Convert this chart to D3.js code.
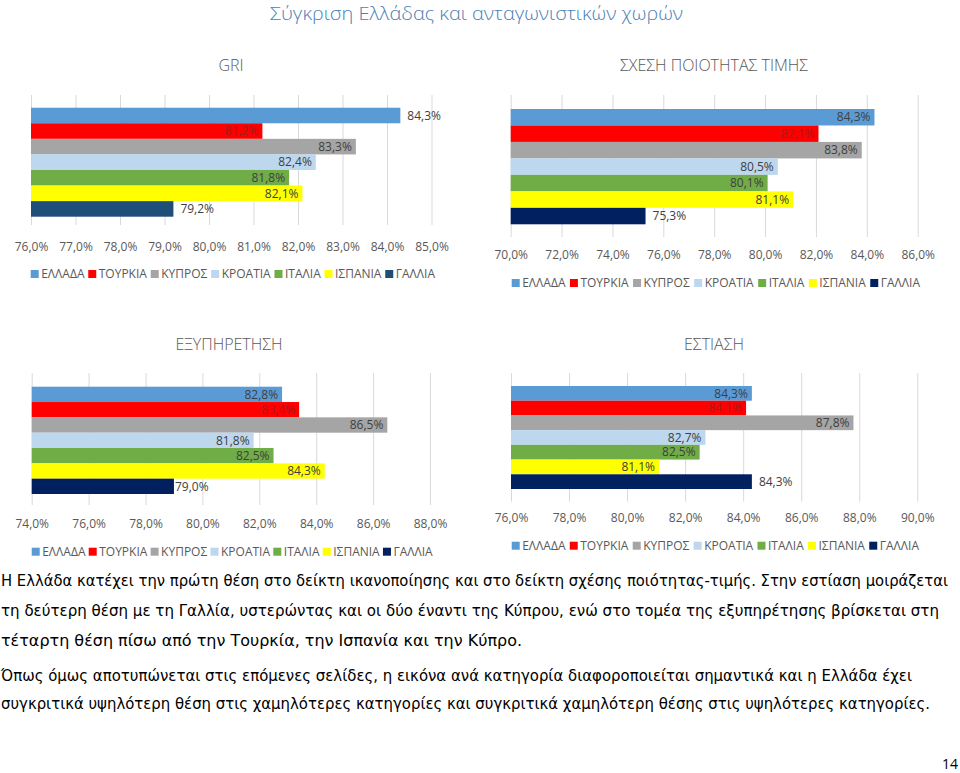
<!DOCTYPE html>
<html><head><meta charset="utf-8">
<script src="https://cdn.jsdelivr.net/npm/d3@7"></script>
<style>
body{margin:0;background:#fff;}
svg{display:block;}
</style></head>
<body>
<svg id="c" width="960" height="773"></svg>
<script>
// ---------- DATA ----------
const categories = ["ΕΛΛΑΔΑ","ΤΟΥΡΚΙΑ","ΚΥΠΡΟΣ","ΚΡΟΑΤΙΑ","ΙΤΑΛΙΑ","ΙΣΠΑΝΙΑ","ΓΑΛΛΙΑ"];
const griValues     = [84.3, 81.2, 83.3, 82.4, 81.8, 82.1, 79.2];
const priceValues   = [84.3, 82.1, 83.8, 80.5, 80.1, 81.1, 75.3];
const serviceValues = [82.8, 83.4, 86.5, 81.8, 82.5, 84.3, 79.0];
const diningValues  = [84.3, 84.1, 87.8, 82.7, 82.5, 81.1, 84.3];
const griTicks     = [76,77,78,79,80,81,82,83,84,85];
const priceTicks   = [70,72,74,76,78,80,82,84,86];
const serviceTicks = [74,76,78,80,82,84,86,88];
const diningTicks  = [76,78,80,82,84,86,88,90];
const chartTitles = ["GRI","ΣΧΕΣΗ ΠΟΙΟΤΗΤΑΣ ΤΙΜΗΣ","ΕΞΥΠΗΡΕΤΗΣΗ","ΕΣΤΙΑΣΗ"];
const mainTitle = "Σύγκριση Ελλάδας και ανταγωνιστικών χωρών";
const paragraphLines = [
 "Η Ελλάδα κατέχει την πρώτη θέση στο δείκτη ικανοποίησης και στο δείκτη σχέσης ποιότητας-τιμής. Στην εστίαση μοιράζεται",
 "τη δεύτερη θέση με τη Γαλλία,  υστερώντας και οι δύο έναντι της Κύπρου, ενώ στο τομέα της εξυπηρέτησης βρίσκεται στη",
 "τέταρτη θέση πίσω από την Τουρκία, την Ισπανία και την Κύπρο.",
 "Όπως όμως αποτυπώνεται στις επόμενες σελίδες, η εικόνα ανά κατηγορία διαφοροποιείται σημαντικά και η Ελλάδα έχει",
 "συγκριτικά υψηλότερη θέση στις χαμηλότερες κατηγορίες και συγκριτικά χαμηλότερη θέσης στις υψηλότερες κατηγορίες."
];
const pageNumber = "14";

// ---------- STYLE / LAYOUT ----------
const baseColors = ["#5b9bd5","#ff0000","#a5a5a5","#bdd7ee","#70ad47","#ffff00","#002060"];
const font = "'Open Sans', 'Noto Sans', sans-serif";
const svg = d3.select("#c");

const charts = [
 {title:chartTitles[0], values:griValues, ticks:griTicks, x:[31,431.5], bars:[107.7,216.7], grid:[95,225], tickY:246.7, legY:274, titleX:231, titleY:65, galliaColor:"#1f4e79", outside:[0,6], legX:[30.7,435]},
 {title:chartTitles[1], values:priceValues, ticks:priceTicks, x:[510.7,917.7], bars:[109,224.3], grid:[95,237], tickY:255, legY:283, titleX:714, titleY:65, galliaColor:"#002060", outside:[6], legX:[511.7,920]},
 {title:chartTitles[2], values:serviceValues, ticks:serviceTicks, x:[31.7,430], bars:[386.7,494], grid:[373,505], tickY:524, legY:551.7, titleX:229, titleY:344, galliaColor:"#002060", outside:[6], tightOutside:true, legX:[31.7,432.7]},
 {title:chartTitles[3], values:diningValues, ticks:diningTicks, x:[511,917.3], bars:[386,489], grid:[373,501.7], tickY:518.3, legY:545.7, titleX:714, titleY:344, galliaColor:"#002060", outside:[6], legX:[511.7,919]}
];

const fmt = v => d3.format(".1f")(v).replace(".", ",") + "%";

// main title
svg.append("text").attr("x",476.5).attr("y",20).attr("text-anchor","middle")
  .attr("font-family",font).attr("font-weight",300).attr("font-size",18.5)
  .attr("fill","#4a7fb5").attr("textLength",413).attr("lengthAdjust","spacingAndGlyphs").text(mainTitle);

charts.forEach(ch => {
  const g = svg.append("g");
  const x = d3.scaleLinear().domain([ch.ticks[0], ch.ticks[ch.ticks.length-1]]).range(ch.x);
  const y = d3.scaleBand().domain(categories).range(ch.bars).padding(0);
  const colors = baseColors.slice(); colors[6] = ch.galliaColor;
  const color = d3.scaleOrdinal().domain(categories).range(colors);

  g.append("text").attr("x",ch.titleX).attr("y",ch.titleY+6).attr("text-anchor","middle")
    .attr("font-family",font).attr("font-weight",300).attr("font-size",16).attr("fill","#595959").text(ch.title);

  // gridlines + tick labels via axis
  const axis = d3.axisBottom(x).tickValues(ch.ticks).tickSize(-(ch.grid[1]-ch.grid[0])).tickFormat(fmt).tickPadding(0);
  const ag = g.append("g").attr("transform",`translate(0,${ch.grid[1]})`).call(axis);
  ag.select(".domain").remove();
  ag.selectAll(".tick line").attr("stroke","#d9d9d9").attr("stroke-width",1);
  ag.selectAll(".tick text").attr("font-family",font).attr("font-size",12).attr("fill","#595959")
    .attr("y", ch.tickY - ch.grid[1]).attr("dy","0.35em");

  // bars
  g.selectAll("rect.bar").data(categories).join("rect").attr("class","bar")
    .attr("x", x(ch.ticks[0])).attr("y", c => y(c))
    .attr("width", (c,i) => x(ch.values[i]) - x(ch.ticks[0]))
    .attr("height", y.bandwidth()).attr("fill", c => color(c));

  // labels
  g.selectAll("text.lbl").data(categories).join("text").attr("class","lbl")
    .attr("font-family",font).attr("font-size",12)
    .attr("y", c => y(c) + y.bandwidth()/2).attr("dy","0.35em")
    .each(function(c,i){
      const out = ch.outside.includes(i);
      const sel = d3.select(this);
      const xe = x(ch.values[i]);
      if (out) sel.attr("x", xe + (ch.tightOutside ? 1 : 7)).attr("text-anchor","start");
      else sel.attr("x", xe - 4).attr("text-anchor","end");
      sel.attr("fill", (i===1 && !out) ? "#a41c1c" : "#404040");
    })
    .text((c,i) => fmt(ch.values[i]));

  // legend
  const lg = g.append("g");
  const items = lg.selectAll("g").data(categories).join("g");
  items.append("rect").attr("width",8).attr("height",8).attr("y",-4).attr("fill", c => color(c));
  items.append("text").attr("x",10.5).attr("dy","0.35em").attr("font-family",font)
    .attr("font-size",12).attr("fill","#595959").text(c => c);
  const widths = [];
  items.each(function(){ widths.push(10.5 + d3.select(this).select("text").node().getComputedTextLength()); });
  const total = ch.legX[1]-ch.legX[0];
  const gap = (total - d3.sum(widths)) / (categories.length - 1);
  let cx = ch.legX[0];
  items.attr("transform",(c,i) => { const t = `translate(${cx},${ch.legY})`; cx += widths[i] + gap; return t; });
});

// paragraph
const pEnds = [947, 938, 521, 911, 929];
const pY = [586, 616, 646, 681, 709];
paragraphLines.forEach((line,i) => {
  svg.append("text").attr("x",1).attr("y",pY[i]).attr("font-family","'DejaVu Sans Condensed','DejaVu Sans',sans-serif")
    .attr("font-size",15.5).attr("fill","#000").attr("textLength",pEnds[i]).attr("lengthAdjust","spacingAndGlyphs").text(line);
});
svg.append("text").attr("x",950).attr("y",769).attr("text-anchor","middle")
  .attr("font-family",font).attr("font-size",14).attr("fill","#000").text(pageNumber);
</script>
</body></html>
